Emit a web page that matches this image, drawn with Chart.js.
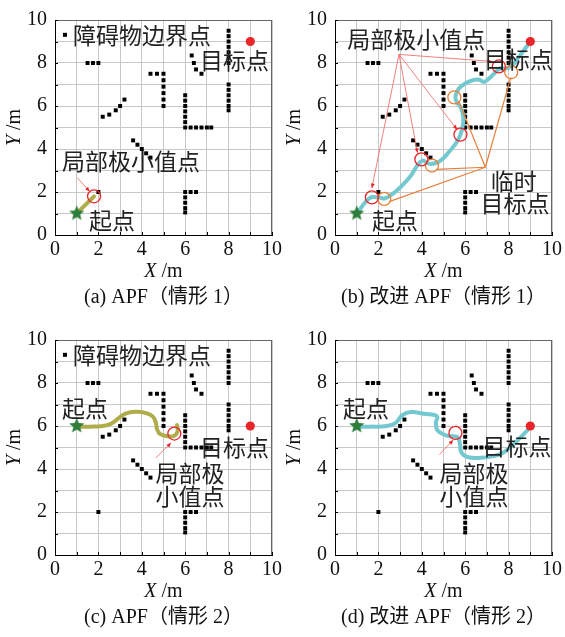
<!DOCTYPE html>
<html>
<head>
<meta charset="utf-8">
<script src="https://cdn.jsdelivr.net/npm/chart.js@4/dist/chart.umd.min.js"></script>
<style>
  body { margin: 0; background: #fff; width: 565px; height: 637px; position: relative; overflow: hidden; }
  canvas { position: absolute; }
</style>
</head>
<body>
<canvas id="pa" width="285" height="320" style="left:0;top:0"></canvas>
<canvas id="pb" width="285" height="320" style="left:280px;top:0"></canvas>
<canvas id="pc" width="285" height="320" style="left:0;top:320px"></canvas>
<canvas id="pd" width="285" height="320" style="left:280px;top:320px"></canvas>
<script>
// 障碍物边界点（两种情形共用）
const obsX = [1.5, 1.75, 2,
  2.2, 2.5, 2.8, 3, 3.2,
  3.6, 3.8, 4, 4.2, 4.4,
  4.4, 4.7, 5, 5, 5, 5, 5, 5,
  6, 6, 6, 6, 6, 6, 6, 6.25, 6.5, 6.75, 7, 7.2,
  6.3, 6.4, 6.5, 6.75,
  8, 8, 8, 8, 8, 8, 8, 8, 8, 8, 8, 8, 8,
  6, 6, 6, 6, 6, 6.25, 6.5,
  2];
const obsY = [8, 8, 8,
  5.5, 5.6, 5.8, 6, 6.3,
  4.4, 4.2, 4, 3.8, 3.6,
  7.5, 7.5, 7.5, 7.2, 6.9, 6.6, 6.3, 6,
  6.5, 6.25, 6, 5.75, 5.5, 5.25, 5, 5, 5, 5, 5, 5,
  8.35, 8, 7.7, 7.5,
  9.5, 9.25, 9, 8.75, 8.5, 8.25, 8, 7, 6.75, 6.5, 6.25, 6, 5.8,
  2, 1.75, 1.5, 1.25, 1.05, 2, 2,
  2];

// 情形1：起点、目标点
const start1 = { x: 1, y: 1 };
const goal1 = { x: 9, y: 9 };
// 情形1 APF 路径
const apfX1 = [1, 1.4, 1.8];
const apfY1 = [1, 1.4, 1.8];
const apfMinX1 = [1.8];
const apfMinY1 = [1.8];
// 情形1 改进 APF 路径
const impX1 = [1, 1.6, 2.05, 2.3, 2.85, 3.45, 4.0, 4.4, 4.85, 5.3, 5.65, 5.85, 5.92, 5.8, 5.6, 5.55, 5.7, 6.0, 6.35, 6.65, 6.85, 7.05, 7.3, 7.6, 7.85, 8.15, 8.5, 8.75, 9];
const impY1 = [1, 1.72, 1.74, 1.7, 2.07, 2.7, 3.45, 3.3, 3.45, 3.92, 4.38, 4.9, 5.45, 5.92, 6.2, 6.45, 6.8, 7.05, 7.2, 7.22, 7.12, 7.24, 7.47, 7.75, 7.74, 7.87, 8.32, 8.65, 9];
const impMinX1 = [1.7, 3.98, 5.78, 7.55];
const impMinY1 = [1.75, 3.52, 4.67, 7.84];
const tempGoalX1 = [2.27, 4.47, 5.5, 8.12];
const tempGoalY1 = [1.68, 3.23, 6.4, 7.57];

// 情形2：起点、目标点
const start2 = { x: 1, y: 6 };
const goal2 = { x: 9, y: 6 };
// 情形2 APF 路径
const apfX2 = [1, 1.6, 2.2, 2.6, 2.95, 3.25, 3.7, 4.2, 4.5, 4.65, 4.7, 4.85, 5.2, 5.5, 5.65, 5.62];
const apfY2 = [5.97, 5.97, 6.0, 6.12, 6.38, 6.58, 6.66, 6.6, 6.45, 6.15, 5.85, 5.62, 5.52, 5.55, 5.75, 6.05];
const apfMinX2 = [5.5];
const apfMinY2 = [5.65];
// 情形2 改进 APF 路径
const impX2 = [1, 1.6, 2.4, 2.8, 3.1, 3.5, 4.1, 4.7, 4.65, 4.72, 5.15, 5.65, 5.75, 5.82, 6.1, 6.7, 7.3, 7.75, 8.15, 8.6, 9];
const impY2 = [5.97, 5.97, 6.0, 6.15, 6.5, 6.65, 6.57, 6.45, 6.15, 5.8, 5.55, 5.48, 5.2, 4.78, 4.56, 4.52, 4.6, 4.76, 5.08, 5.52, 5.95];
const impMinX2 = [5.55];
const impMinY2 = [5.68];

const SERIF = '"Liberation Serif", "Times New Roman", serif';
const CJK = '"Noto Sans CJK SC", sans-serif';
const RED = '#e8262a';
const OLIVE = '#b1ac4a';
const CYAN = '#74c8d0';
const ORANGE = '#e8803a';

const pts = (xs, ys) => xs.map((x, i) => ({ x, y: ys[i] }));

// 实心五角星，用作起点标记
function starMark(r, color) {
  const c = document.createElement('canvas');
  c.width = c.height = 2 * r + 2;
  const g = c.getContext('2d');
  g.beginPath();
  for (let i = 0; i < 10; i++) {
    const a = -Math.PI / 2 + i * Math.PI / 5;
    const rr = i % 2 ? r * 0.45 : r;
    g.lineTo(r + 1 + rr * Math.cos(a), r + 1 + rr * Math.sin(a));
  }
  g.closePath();
  g.fillStyle = color;
  g.fill();
  return c;
}
const star = starMark(8, '#2f7d3a');

const obstacles = () => ({
  data: pts(obsX, obsY), showLine: false, pointStyle: 'rect', pointRadius: 2.8,
  backgroundColor: '#000', borderWidth: 0
});
const path = (xs, ys, color) => ({
  data: pts(xs, ys), showLine: true, borderColor: color, borderWidth: 4,
  pointRadius: 0, tension: 0.4, borderCapStyle: 'round'
});
const rings = (xs, ys, color) => ({
  data: pts(xs, ys), showLine: false, pointStyle: 'circle', pointRadius: 6.5,
  borderColor: color, borderWidth: 1.3, backgroundColor: 'rgba(0,0,0,0)'
});
const startSet = (p) => ({ data: [p], showLine: false, pointStyle: star, pointRadius: 8 });
const goalSet = (p) => ({ data: [p], showLine: false, pointRadius: 4.6, backgroundColor: RED, borderWidth: 0 });
const leader = (from, to, color) => ({
  data: [from, to], showLine: true, borderColor: color, borderWidth: 1.2, pointRadius: 0, tension: 0
});

// 文字、箭头、坐标轴标题、小刻度
const decor = {
  id: 'decor',
  beforeDatasetsDraw(chart) {
    const { ctx, chartArea: a } = chart;
    ctx.save();
    ctx.strokeStyle = '#666';
    ctx.lineWidth = 1;
    ctx.beginPath();
    ctx.moveTo(a.left, a.top + 0.5); ctx.lineTo(a.right, a.top + 0.5);
    ctx.moveTo(a.right - 0.5, a.top); ctx.lineTo(a.right - 0.5, a.bottom);
    ctx.stroke();
    ctx.strokeStyle = '#000';
    ctx.beginPath();
    for (let v = 0; v <= 10; v++) {
      const py = Math.round(chart.scales.y.getPixelForValue(v)) + 0.5;
      ctx.moveTo(a.left, py); ctx.lineTo(a.left + 3, py);
      const px = Math.round(chart.scales.x.getPixelForValue(v)) + 0.5;
      ctx.moveTo(px, a.bottom); ctx.lineTo(px, a.bottom - 3);
    }
    ctx.stroke();
    ctx.restore();
  },
  afterDraw(chart, args, opts) {
    const { ctx, chartArea: a, scales: { x, y } } = chart;
    ctx.save();
    // 红色引线与箭头
    (opts.arrows || []).forEach(([f, t]) => {
      const x1 = x.getPixelForValue(f.x), y1 = y.getPixelForValue(f.y);
      const x2 = x.getPixelForValue(t.x), y2 = y.getPixelForValue(t.y);
      ctx.strokeStyle = '#f07070';
      ctx.lineWidth = 0.9;
      ctx.beginPath(); ctx.moveTo(x1, y1); ctx.lineTo(x2, y2); ctx.stroke();
      const ang = Math.atan2(y2 - y1, x2 - x1);
      ctx.fillStyle = RED;
      ctx.beginPath();
      ctx.moveTo(x2, y2);
      ctx.lineTo(x2 - 5 * Math.cos(ang - 0.4), y2 - 5 * Math.sin(ang - 0.4));
      ctx.lineTo(x2 - 5 * Math.cos(ang + 0.4), y2 - 5 * Math.sin(ang + 0.4));
      ctx.closePath(); ctx.fill();
    });
    // 图中文字
    ctx.fillStyle = '#222';
    ctx.textBaseline = 'middle';
    ctx.textAlign = 'left';
    ctx.font = '23px ' + CJK;
    (opts.texts || []).forEach(t => {
      ctx.fillText(t.text, x.getPixelForValue(t.x), y.getPixelForValue(t.y));
    });
    if (opts.legend) {
      const lx = x.getPixelForValue(opts.legend.x), ly = y.getPixelForValue(opts.legend.y);
      ctx.fillStyle = '#000';
      ctx.fillRect(lx - 2, ly - 2, 4, 4);
      ctx.fillStyle = '#222';
      ctx.fillText('障碍物边界点', lx + 8, ly);
    }
    // X /m、Y /m
    ctx.fillStyle = '#111';
    const axisTitle = (cx, cy) => {
      ctx.font = 'italic 20px ' + SERIF;
      const w1 = ctx.measureText('X').width;
      ctx.font = '20px ' + SERIF;
      const w2 = ctx.measureText(' /m').width;
      return [w1, w2];
    };
    const [wx, wm] = axisTitle();
    const cx = (a.left + a.right) / 2;
    let sx = cx - (wx + wm) / 2;
    ctx.textAlign = 'left';
    ctx.font = 'italic 20px ' + SERIF;
    ctx.fillText('X', sx, a.bottom + 37);
    ctx.font = '20px ' + SERIF;
    ctx.fillText(' /m', sx + wx, a.bottom + 37);

    ctx.save();
    ctx.translate(15, (a.top + a.bottom) / 2);
    ctx.rotate(-Math.PI / 2);
    ctx.font = 'italic 20px ' + SERIF;
    const wy = ctx.measureText('Y').width;
    ctx.font = '20px ' + SERIF;
    sx = -(wy + wm) / 2;
    ctx.font = 'italic 20px ' + SERIF;
    ctx.fillText('Y', sx, 0);
    ctx.font = '20px ' + SERIF;
    ctx.fillText(' /m', sx + wy, 0);
    ctx.restore();

    // 分图标题
    ctx.textAlign = 'center';
    ctx.font = '20px ' + SERIF + ', ' + CJK;
    ctx.fillText(opts.caption, cx, a.bottom + 63);
    ctx.restore();
  }
};

const tickFont = { family: SERIF, size: 20 };

function panel(id, datasets, deco) {
  return new Chart(document.getElementById(id), {
    type: 'scatter',
    data: { datasets },
    options: {
      responsive: false,
      animation: false,
      layout: { padding: { top: 18, right: 13, left: 0, bottom: 0 } },
      plugins: { legend: { display: false }, tooltip: { enabled: false }, decor: deco },
      scales: {
        x: {
          min: 0, max: 10,
          afterFit: s => { s.height = 85; },
          ticks: { stepSize: 1, autoSkip: false, maxRotation: 0, padding: 3, color: '#111', font: tickFont,
            callback: v => (v % 2 === 0 ? v : '') },
          grid: { color: '#c8c8c8', drawTicks: false },
          border: { color: '#000' }
        },
        y: {
          min: 0, max: 10,
          afterFit: s => { s.width = 55; },
          ticks: { stepSize: 1, autoSkip: false, padding: 8, color: '#111', font: tickFont,
            callback: v => (v % 2 === 0 ? v : '') },
          grid: { color: '#c8c8c8', drawTicks: false },
          border: { color: '#000' }
        }
      }
    },
    plugins: [decor]
  });
}

// (a) APF，情形1
panel('pa', [
  goalSet(goal1),
  startSet(start1),
  rings(apfMinX1, apfMinY1, RED),
  path(apfX1, apfY1, OLIVE),
  obstacles()
], {
  caption: '(a) APF（情形 1）',
  legend: { x: 0.46, y: 9.31 },
  texts: [
    { text: '目标点', x: 6.68, y: 8.11 },
    { text: '局部极小值点', x: 0.32, y: 3.41 },
    { text: '起点', x: 1.57, y: 0.69 }
  ],
  arrows: [[{ x: 1.04, y: 2.65 }, { x: 1.6, y: 2.02 }]]
});

// (b) 改进 APF，情形1
const minLabel1 = { x: 2.95, y: 8.4 };
const tempLabel1 = { x: 6.93, y: 3.15 };
panel('pb', [
  goalSet(goal1),
  startSet(start1),
  rings(impMinX1, impMinY1, RED),
  rings(tempGoalX1, tempGoalY1, ORANGE),
  leader(tempLabel1, { x: 2.5, y: 1.55 }, ORANGE),
  leader(tempLabel1, { x: 4.65, y: 3.05 }, ORANGE),
  leader(tempLabel1, { x: 5.7, y: 6.22 }, ORANGE),
  leader(tempLabel1, { x: 8.1, y: 7.33 }, ORANGE),
  path(impX1, impY1, CYAN),
  obstacles()
], {
  caption: '(b) 改进 APF（情形 1）',
  texts: [
    { text: '局部极小值点', x: 0.56, y: 9.12 },
    { text: '目标点', x: 6.85, y: 8.16 },
    { text: '临时', x: 7.18, y: 2.49 },
    { text: '目标点', x: 6.71, y: 1.47 },
    { text: '起点', x: 1.71, y: 0.69 }
  ],
  arrows: [
    [minLabel1, { x: 1.7, y: 2.18 }],
    [minLabel1, { x: 3.8, y: 3.82 }],
    [minLabel1, { x: 5.63, y: 4.9 }],
    [minLabel1, { x: 7.24, y: 8.07 }]
  ]
});

// (c) APF，情形2
panel('pc', [
  goalSet(goal2),
  startSet(start2),
  rings(apfMinX2, apfMinY2, RED),
  path(apfX2, apfY2, OLIVE),
  obstacles()
], {
  caption: '(c) APF（情形 2）',
  legend: { x: 0.46, y: 9.31 },
  texts: [
    { text: '起点', x: 0.32, y: 6.82 },
    { text: '目标点', x: 6.68, y: 5.02 },
    { text: '局部极', x: 4.63, y: 3.78 },
    { text: '小值点', x: 4.63, y: 2.72 }
  ],
  arrows: [[{ x: 4.65, y: 4.52 }, { x: 5.35, y: 5.22 }]]
});

// (d) 改进 APF，情形2
panel('pd', [
  goalSet(goal2),
  startSet(start2),
  rings(impMinX2, impMinY2, RED),
  path(impX2, impY2, CYAN),
  obstacles()
], {
  caption: '(d) 改进 APF（情形 2）',
  texts: [
    { text: '起点', x: 0.37, y: 6.82 },
    { text: '目标点', x: 6.8, y: 5.07 },
    { text: '局部极', x: 4.81, y: 3.78 },
    { text: '小值点', x: 4.81, y: 2.72 }
  ],
  arrows: [[{ x: 4.81, y: 4.67 }, { x: 5.45, y: 5.35 }]]
});
</script>
</body>
</html>
